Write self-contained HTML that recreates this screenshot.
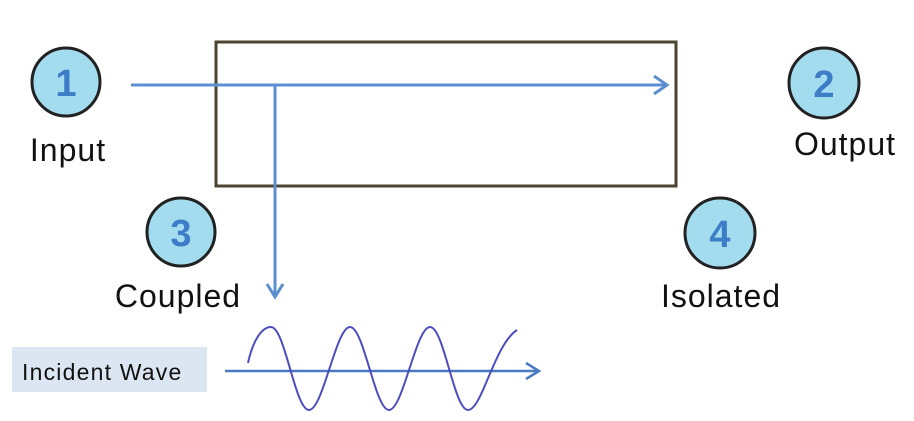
<!DOCTYPE html>
<html><head><meta charset="utf-8"><style>
html,body{margin:0;padding:0;background:#fff;}
svg{display:block;}
text{font-family:"Liberation Sans",sans-serif;}
</style></head><body>
<svg width="914" height="421" viewBox="0 0 914 421" xmlns="http://www.w3.org/2000/svg">
<rect x="216" y="42" width="460" height="144" fill="none" stroke="#4a4430" stroke-width="3"/>
<g stroke="#5b8fd1" stroke-width="3" fill="none">
<line x1="131" y1="85" x2="666" y2="85"/>
<polyline points="654,76 667,85 654,94"/>
<line x1="275" y1="85" x2="275" y2="296"/>
<polyline points="267,284 275,297 283,284"/>
</g>
<g stroke="#222" stroke-width="3" fill="#a3dcee">
<circle cx="66" cy="82" r="34"/>
<circle cx="824" cy="83" r="35"/>
<circle cx="181" cy="232" r="34"/>
<circle cx="720" cy="233" r="35"/>
</g>
<g font-weight="bold" font-size="38" fill="#3d7cc6" text-anchor="middle">
<text x="66" y="96">1</text>
<text x="824" y="97">2</text>
<text x="181" y="246">3</text>
<text x="720" y="247">4</text>
</g>
<g font-size="32" fill="#111" text-anchor="middle" letter-spacing="1">
<text x="68" y="161">Input</text>
<text x="845" y="155">Output</text>
<text x="178" y="307">Coupled</text>
<text x="721" y="307">Isolated</text>
</g>
<rect x="12" y="347" width="195" height="45" fill="#dce6f2"/>
<text x="22" y="380" font-size="23" fill="#111" letter-spacing="1.2">Incident Wave</text>
<g stroke="#4a7bc0" stroke-width="2.5" fill="none">
<line x1="225" y1="371" x2="538" y2="371"/>
<polyline points="526,363 539,371 526,379"/>
</g>
<path d="M248,363 C253,340 262,327 271,327 C285,327 295,410 309,410 C323,410 336,327 350,327 C364,327 375,410 389,410 C403,410 416,327 430,327 C444,327 454,410 468,410 C482,410 494,345 517,330" stroke="#4c4cc0" stroke-width="2" fill="none"/>
</svg>
</body></html>
